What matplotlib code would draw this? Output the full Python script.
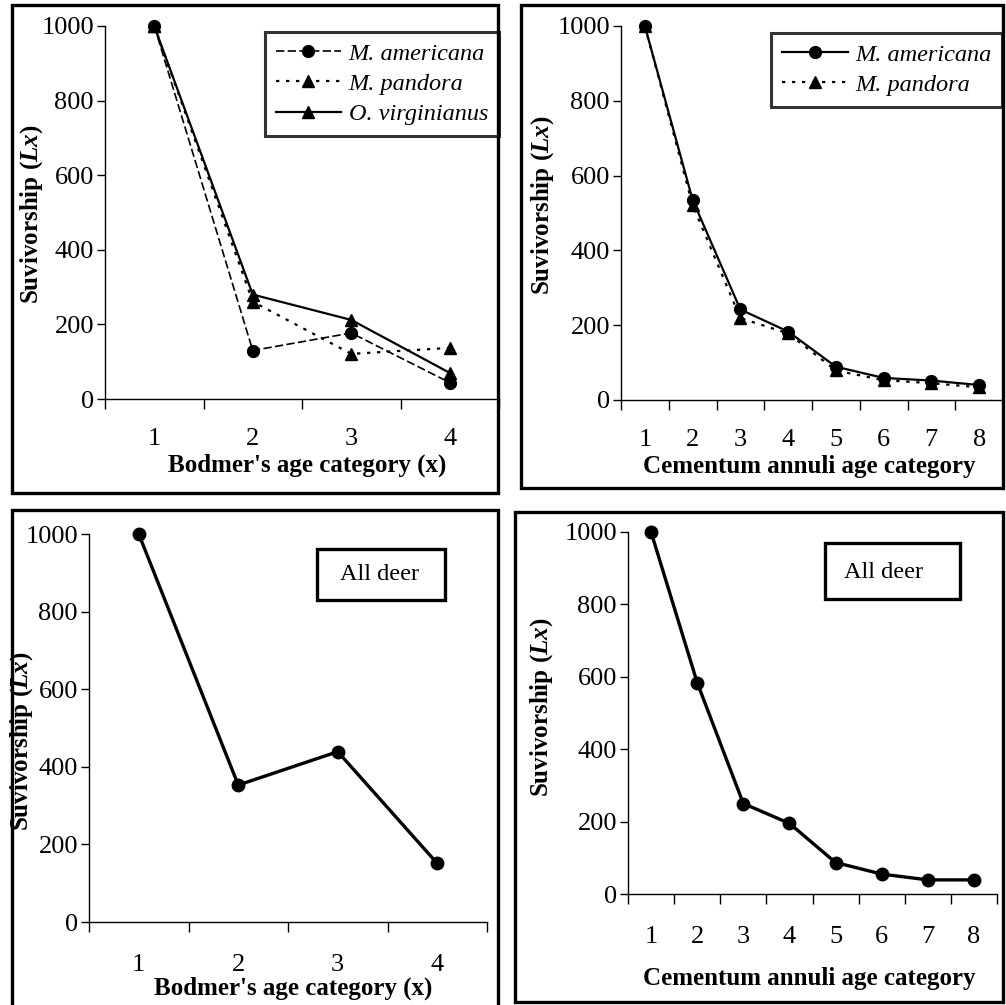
import matplotlib
matplotlib.use('Agg')
import matplotlib.pyplot as plt
from matplotlib.patches import Rectangle
import numpy as np

plt.rcParams['font.family'] = ['Liberation Serif', 'DejaVu Serif']
plt.rcParams['mathtext.fontset'] = 'custom'
plt.rcParams['mathtext.rm'] = 'Liberation Serif'
plt.rcParams['mathtext.it'] = 'Liberation Serif:italic'
plt.rcParams['mathtext.bf'] = 'Liberation Serif:bold'
plt.rcParams['mathtext.bfit'] = 'Liberation Serif:bold:italic'

# ---------------- data ----------------
bodmer_cats = [1, 2, 3, 4]
cementum_cats = [1, 2, 3, 4, 5, 6, 7, 8]

bodmer_americana = [1000, 130, 177, 44]
bodmer_pandora = [1000, 261, 121, 137]
bodmer_virginianus = [1000, 280, 212, 70]

cementum_americana = [1000, 535, 242, 183, 89, 59, 52, 40]
cementum_pandora = [1000, 521, 219, 178, 79, 53, 45, 34]

all_bodmer = [1000, 353, 439, 151]
all_cementum = [1000, 584, 250, 195, 87, 55, 39, 39]

y_ticks = [0, 200, 400, 600, 800, 1000]

bodmer_xlabel = "Bodmer's age category (x)"
cementum_xlabel = "Cementum annuli age category"
ylabel = r"Suvivorship ($\mathbfit{Lx}$)"
series_names = ["M. americana", "M. pandora", "O. virginianus"]
box_label = "All deer"

# ---------------- figure ----------------
W, H = 1006, 1005
fig = plt.figure(figsize=(W / 100, H / 100), dpi=100)

TICK_FS = 19
LABEL_FS = 18
LEG_FS = 17.5


def fx(x):
    return x / W


def fy(y):
    return 1 - y / H


def frame(l, t, r, b):
    fig.patches.append(Rectangle((fx(l), fy(b)), fx(r) - fx(l), fy(t) - fy(b),
                                 transform=fig.transFigure, fill=False,
                                 edgecolor='black', linewidth=2.4, zorder=0))


def make_ax(l, t, r, b, cats, pad):
    ax = fig.add_axes([fx(l), fy(b), fx(r) - fx(l), fy(t) - fy(b)])
    n = len(cats)
    ax.set_xlim(0.5, n + 0.5)
    ax.set_ylim(0, 1000)
    ax.patch.set_alpha(0)
    for s in ['top', 'right']:
        ax.spines[s].set_visible(False)
    for s in ['left', 'bottom']:
        ax.spines[s].set_linewidth(1.0)
    ax.set_xticks(cats)
    ax.set_xticklabels([str(c) for c in cats])
    ax.set_xticks(np.arange(0.5, n + 1.0, 1.0), minor=True)
    ax.tick_params(axis='x', which='major', length=0, pad=pad, labelsize=TICK_FS)
    ax.tick_params(axis='x', which='minor', length=7, width=1.0, direction='out')
    ax.set_yticks(y_ticks)
    ax.tick_params(axis='y', length=6, width=1.0, pad=2, labelsize=TICK_FS)
    return ax


def add_legend(ax, x_right, y_top):
    leg = ax.legend(loc='upper right', bbox_to_anchor=(fx(x_right), fy(y_top)),
                    bbox_transform=fig.transFigure, borderaxespad=0, numpoints=1,
                    handlelength=2.7, handletextpad=0.3, labelspacing=0.33,
                    borderpad=0.45, fancybox=False,
                    prop={'family': 'Liberation Serif', 'style': 'italic', 'size': LEG_FS})
    leg.get_frame().set_edgecolor('black')
    leg.get_frame().set_linewidth(2.2)
    return leg


# frames
frame(12, 5, 498, 493)
frame(521, 5, 1003, 488)
frame(12, 510, 498, 1010)
frame(515, 512, 1003, 1002)

# ---- top-left ----
ax1 = make_ax(105, 26, 499, 399, bodmer_cats, 21)
ax1.plot(bodmer_cats, bodmer_americana, color='black', linestyle=(0, (5, 2)), linewidth=1.2,
         marker='o', markersize=8.5, clip_on=False, label=series_names[0])
ax1.plot(bodmer_cats, bodmer_pandora, color='black', linestyle=(0, (1.5, 3)), linewidth=1.6,
         marker='^', markersize=8.5, clip_on=False, label=series_names[1])
ax1.plot(bodmer_cats, bodmer_virginianus, color='black', linestyle='-', linewidth=1.6,
         marker='^', markersize=8.5, clip_on=False, label=series_names[2])
add_legend(ax1, 499, 32)

fig.text(fx(307), fy(465), bodmer_xlabel, ha='center', va='center',
         fontsize=LABEL_FS, fontweight='bold')
fig.text(fx(32), fy(214), ylabel, ha='center', va='center', rotation=90,
         fontsize=LABEL_FS, fontweight='bold')

# ---- top-right ----
ax2 = make_ax(621, 26, 1003, 400, cementum_cats, 21)
ax2.plot(cementum_cats, cementum_americana, color='black', linestyle='-', linewidth=1.6,
         marker='o', markersize=8.5, clip_on=False, label=series_names[0])
ax2.plot(cementum_cats, cementum_pandora, color='black', linestyle=(0, (1.5, 3)), linewidth=1.6,
         marker='^', markersize=8.5, clip_on=False, label=series_names[1])
add_legend(ax2, 1002, 33)

fig.text(fx(809), fy(467), cementum_xlabel, ha='center', va='center',
         fontsize=LABEL_FS, fontweight='bold')
fig.text(fx(543), fy(205), ylabel, ha='center', va='center', rotation=90,
         fontsize=LABEL_FS, fontweight='bold')

# ---- bottom-left ----
ax3 = make_ax(89, 534, 487, 922, bodmer_cats, 23)
ax3.plot(bodmer_cats, all_bodmer, color='black', linestyle='-', linewidth=2.4,
         marker='o', markersize=9, clip_on=False)
fig.text(fx(293), fy(988), bodmer_xlabel, ha='center', va='center',
         fontsize=LABEL_FS, fontweight='bold')
fig.text(fx(22), fy(741), ylabel, ha='center', va='center', rotation=90,
         fontsize=LABEL_FS, fontweight='bold')
frame(317, 549, 445, 600)
fig.text(fx(379), fy(575), box_label, ha='center', va='center', fontsize=LEG_FS)

# ---- bottom-right ----
ax4 = make_ax(628, 532, 997, 894, cementum_cats, 23)
ax4.plot(cementum_cats, all_cementum, color='black', linestyle='-', linewidth=2.4,
         marker='o', markersize=9, clip_on=False)
fig.text(fx(809), fy(978), cementum_xlabel, ha='center', va='center',
         fontsize=LABEL_FS, fontweight='bold')
fig.text(fx(542), fy(707), ylabel, ha='center', va='center', rotation=90,
         fontsize=LABEL_FS, fontweight='bold')
frame(825, 543, 960, 599)
fig.text(fx(884), fy(572), box_label, ha='center', va='center', fontsize=LEG_FS)

fig.savefig('out.png', dpi=100)
